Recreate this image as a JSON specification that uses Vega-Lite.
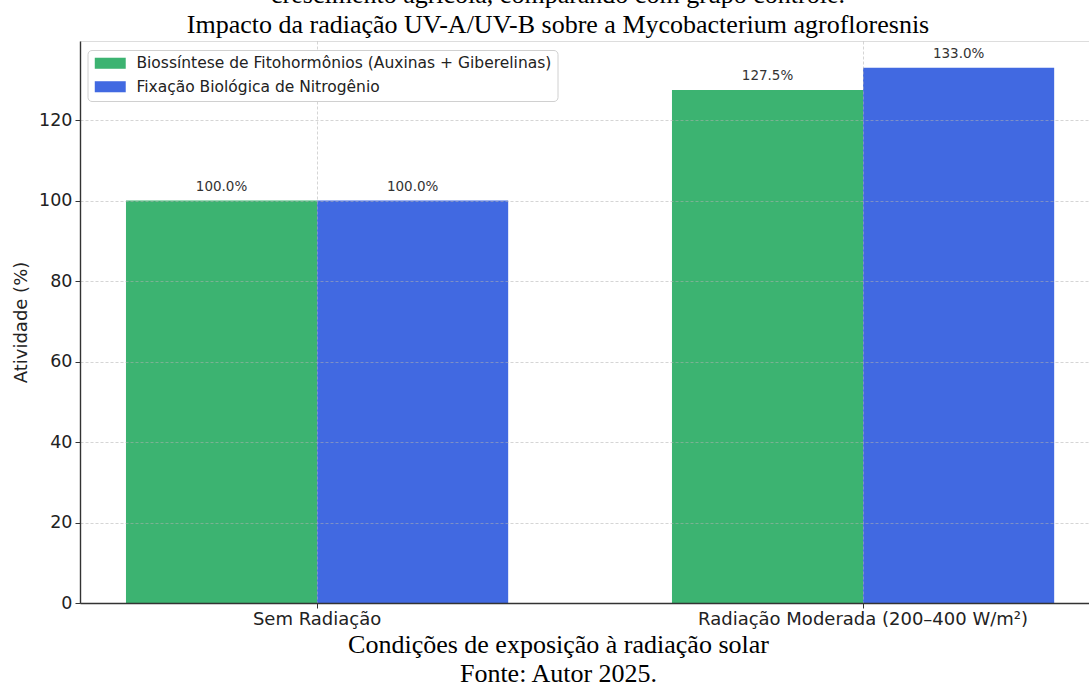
{
  "$schema": "https://vega.github.io/schema/vega-lite/v6.json",
  "autosize": {"type": "none"},
  "padding": {"left": 80, "top": 41, "right": 0, "bottom": 83},
  "width": 1009,
  "height": 562,
  "background": "white",
  "title": {
    "text": ["crescimento agrícola, comparando com grupo controle.", "Impacto da radiação UV-A/UV-B sobre a Mycobacterium agrofloresnis"],
    "font": "Liberation Serif",
    "fontSize": 26,
    "fontWeight": "normal",
    "color": "black",
    "lineHeight": 30,
    "anchor": "middle",
    "dx": -26.5,
    "offset": 3
  },
  "data": {
    "values": [
      {"condicao": "Sem Radiação", "processo": "Biossíntese de Fitohormônios (Auxinas + Giberelinas)", "atividade": 100, "rotulo": "100.0%"},
      {"condicao": "Sem Radiação", "processo": "Fixação Biológica de Nitrogênio", "atividade": 100, "rotulo": "100.0%"},
      {"condicao": "Radiação Moderada (200–400 W/m²)", "processo": "Biossíntese de Fitohormônios (Auxinas + Giberelinas)", "atividade": 127.5, "rotulo": "127.5%"},
      {"condicao": "Radiação Moderada (200–400 W/m²)", "processo": "Fixação Biológica de Nitrogênio", "atividade": 133, "rotulo": "133.0%"}
    ]
  },
  "encoding": {
    "x": {
      "field": "condicao",
      "type": "nominal",
      "sort": ["Sem Radiação", "Radiação Moderada (200–400 W/m²)"],
      "scale": {"paddingInner": 0.3, "paddingOuter": 0.074, "align": 0.569},
      "axis": {
        "zindex": 1,
        "bandPosition": 0.5,
        "labelAngle": 0,
        "labelFont": "DejaVu Sans",
        "labelFontSize": 18,
        "labelColor": "#222222",
        "labelPadding": 2,
        "labelLimit": 500,
        "ticks": true,
        "tickSize": 5,
        "tickColor": "#333333",
        "tickWidth": 1,
        "domainColor": "#333333",
        "domainWidth": 1.4,
        "grid": true,
        "gridColor": "#b0b0b0",
        "gridOpacity": 0.6,
        "gridDash": [3, 2],
        "gridWidth": 0.9,
        "title": ["Condições de exposição à radiação solar", "Fonte: Autor 2025."],
        "titleFont": "Liberation Serif",
        "titleFontSize": 26,
        "titleFontWeight": "normal",
        "titleColor": "black",
        "titleLineHeight": 29,
        "titleX": 478,
        "titleY": 49.5,
        "titleAlign": "center",
        "titleBaseline": "alphabetic"
      }
    },
    "xOffset": {
      "field": "processo",
      "sort": ["Biossíntese de Fitohormônios (Auxinas + Giberelinas)", "Fixação Biológica de Nitrogênio"],
      "scale": {"paddingInner": 0, "paddingOuter": 0}
    },
    "y": {
      "field": "atividade",
      "type": "quantitative",
      "scale": {"domain": [0, 139.65], "nice": false, "zero": true},
      "axis": {
        "zindex": 1,
        "values": [0, 20, 40, 60, 80, 100, 120],
        "labelFont": "DejaVu Sans",
        "labelFontSize": 17.5,
        "labelColor": "#222222",
        "labelPadding": 3,
        "tickSize": 5,
        "tickColor": "#333333",
        "tickWidth": 1,
        "domainColor": "#333333",
        "domainWidth": 1.4,
        "grid": true,
        "gridColor": "#b0b0b0",
        "gridOpacity": 0.6,
        "gridDash": [3, 2],
        "gridWidth": 0.9,
        "title": "Atividade (%)",
        "titleFont": "DejaVu Sans",
        "titleFontSize": 18,
        "titleFontWeight": "normal",
        "titleColor": "#222222",
        "titleX": -59,
        "titleBaseline": "middle"
      }
    }
  },
  "layer": [
    {
      "mark": {"type": "bar"},
      "encoding": {
        "color": {
          "field": "processo",
          "type": "nominal",
          "sort": ["Biossíntese de Fitohormônios (Auxinas + Giberelinas)", "Fixação Biológica de Nitrogênio"],
          "scale": {
            "domain": ["Biossíntese de Fitohormônios (Auxinas + Giberelinas)", "Fixação Biológica de Nitrogênio"],
            "range": ["#3CB371", "#4169E1"]
          },
          "legend": {
            "title": null,
            "orient": "none",
            "legendX": 7.5,
            "legendY": 9,
            "zindex": 2,
            "fillColor": "white",
            "strokeColor": "#d0d0d0",
            "cornerRadius": 4,
            "padding": 5.5,
            "labelFont": "DejaVu Sans",
            "labelFontSize": 15.5,
            "labelColor": "#222222",
            "labelLimit": 600,
            "symbolType": "M-2.58,-0.92H2.58V0.92H-2.58Z",
            "symbolSize": 144,
            "symbolStrokeWidth": 0,
            "symbolOpacity": 1,
            "symbolOffset": 9.5,
            "labelOffset": 18.4,
            "rowPadding": 6.5
          }
        }
      }
    },
    {
      "mark": {"type": "text", "dy": -10, "baseline": "alphabetic", "align": "center", "font": "DejaVu Sans", "fontSize": 13.5, "color": "#333333"},
      "encoding": {
        "text": {"field": "rotulo"}
      }
    }
  ]
}
